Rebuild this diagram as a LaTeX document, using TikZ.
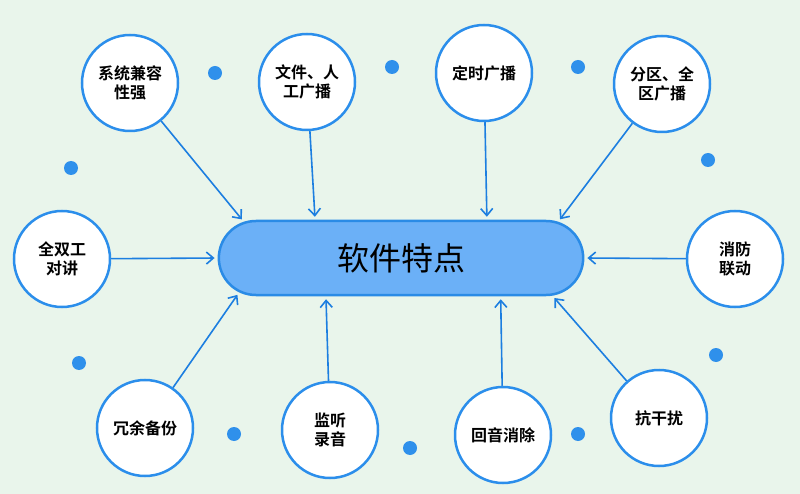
\documentclass[tikz,border=0pt]{standalone}
\usepackage{fontspec}
\usepackage{tikz}
\usetikzlibrary{arrows.meta,shapes.misc}
\newfontfamily\cjk[BoldFont={Noto Sans CJK SC Bold}]{Noto Sans CJK SC}
\definecolor{pagebg}{HTML}{E9F5EB}
\definecolor{ringbd}{HTML}{2B8EEB}
\definecolor{corefill}{HTML}{6BB0F7}
\definecolor{corebd}{HTML}{2A8BE6}
\definecolor{linkblue}{HTML}{1C7EE0}
\definecolor{dotblue}{HTML}{2F90EB}
\tikzset{
  core/.style={rounded rectangle,draw=corebd,fill=corefill,line width=2.5pt,
               minimum width=371pt,minimum height=74pt,
               font=\cjk\fontsize{32}{36}\selectfont},
  feat/.style={circle,draw=ringbd,fill=white,line width=2.5pt,
               minimum size=96pt,inner sep=0pt,align=center,
               font=\cjk\bfseries\fontsize{16}{19}\selectfont},
  arrowlink/.style={-{Straight Barb[length=7pt,width=12pt]},line width=1.6pt,
                    linkblue,shorten >=3pt},
  blob/.style={circle,fill=dotblue,inner sep=0pt,minimum size=14pt},
}

\begin{document}
\begin{tikzpicture}[x=1pt,y=-1pt]
  \fill[pagebg] (0,0) rectangle (800,494);
  \useasboundingbox (0,0) rectangle (800,494);

  \node[core] (core) at (401,258) {软件特点};

  \node[feat] (sys)  at (130,83)  {系统兼容\\性强};
  \node[feat] (wen)  at (307,82)  {文件、人\\工广播};
  \node[feat] (ding) at (484,73)  {定时广播};
  \node[feat] (fen)  at (662,84)  {分区、全\\区广播};
  \node[feat] (quan) at (62,259)  {全双工\\对讲};
  \node[feat] (xiao) at (735,259) {消防\\联动};
  \node[feat] (rong) at (145,428) {冗余备份};
  \node[feat] (jian) at (330,430) {监听\\录音};
  \node[feat] (hui)  at (503,435) {回音消除};
  \node[feat] (kang) at (659,418) {抗干扰};

  % links into the centre
  \draw[arrowlink] (sys)  -- (core.167.7);
  \draw[arrowlink] (wen)  -- (core.156.7);
  \draw[arrowlink] (ding) -- (core.24.3);
  \draw[arrowlink] (fen)  -- (core.13.1);
  \draw[arrowlink] (quan) -- (core.180);
  \draw[arrowlink] (xiao) -- (core.0);
  \draw[arrowlink] (rong) -- (core.192.3);
  \draw[arrowlink] (jian) -- (core.207.5);
  \draw[arrowlink] (hui)  -- (core.339.9);
  \draw[arrowlink] (kang) -- (core.346.7);

  % loose dots
  \foreach \x/\y [count=\i] in {215/73,392/67,578/67,708/160,71/168,
                                79/363,234/434,410/448,578/434,716/355}
    \node[blob] (dot\i) at (\x,\y) {};
\end{tikzpicture}
\end{document}
